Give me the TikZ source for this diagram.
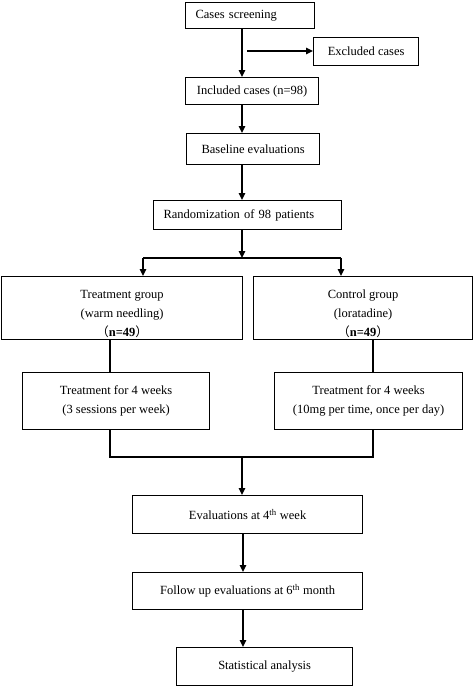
\documentclass[tikz,border=0pt]{standalone}
\usepackage{fontspec}
\setmainfont{Liberation Serif}
\newfontfamily\cjk{Noto Sans CJK SC}
\usetikzlibrary{arrows.meta}
\begin{document}
\begin{tikzpicture}[x=1pt,y=-1pt,
  every node/.style={font=\fontsize{12.5}{19}\selectfont},
  box/.style={draw, line width=1.2pt, inner sep=0pt, align=center, anchor=north west},
  lbox/.style={draw, line width=1.2pt, inner ysep=0pt, inner xsep=10pt, align=left, anchor=north west},
  conn/.style={line width=1.4pt},
  arr/.style={line width=1.4pt, -{Triangle[length=7pt,width=6.5pt]}}]
\useasboundingbox (0,0) rectangle (473,686);
% boxes
\node[lbox, text width=109pt, minimum height=26pt] (screen) at (185,2) {Cases screening};
\node[box, minimum width=105pt, minimum height=28pt] (excl) at (313,37) {Excluded cases};
\node[box, minimum width=133pt, minimum height=27pt] (incl) at (185,77) {Included cases (n=98)};
\node[box, minimum width=133pt, minimum height=31pt] (base) at (186,133) {Baseline evaluations};
\node[lbox, text width=168pt, minimum height=29pt] (rand) at (153,200) {Randomization of 98 patients};
\node[box, minimum width=241pt, minimum height=63pt] (tg) at (1,276) {\rule{0pt}{19pt}Treatment group\\(warm needling)\\{\cjk （}\textbf{n=49}{\cjk ）}};
\node[box, minimum width=219pt, minimum height=63pt] (cg) at (253,276) {\rule{0pt}{19pt}Control group\\(loratadine)\\{\cjk （}\textbf{n=49}{\cjk ）}};
\node[box, minimum width=187pt, minimum height=57pt] (tl) at (22,372) {Treatment for 4 weeks\\(3 sessions per week)};
\node[box, minimum width=188pt, minimum height=57pt] (tr) at (274,372) {Treatment for 4 weeks\\(10mg per time, once per day)};
\node[box, minimum width=230pt, minimum height=38pt] (ev) at (132,495) {Evaluations at 4\textsuperscript{th} week};
\node[box, minimum width=230pt, minimum height=37pt] (fu) at (132,572) {Follow up evaluations at 6\textsuperscript{th} month};
\node[box, minimum width=176pt, minimum height=38pt] (st) at (176,647) {Statistical analysis};
% coordinates
\coordinate (m) at (242,0);
\coordinate (xs) at (247,51);
\coordinate (bl) at (143,258);
\coordinate (br) at (341,258);
\coordinate (jm) at (242,258);
\coordinate (cl) at (110,0);
\coordinate (cr) at (373,0);
\coordinate (jl) at (110,457);
\coordinate (jr) at (373,457);
\coordinate (jb) at (242,457);
\coordinate (m2) at (243,0);
% connectors
\draw[arr] (screen.south -| m) -- (incl.north -| m);
\draw[arr] (xs) -- (excl.west |- xs);
\draw[arr] (incl.south -| m) -- (base.north -| m);
\draw[arr] (base.south -| m) -- (rand.north -| m);
\draw[arr] (rand.south -| m) -- (jm);
\draw[conn] (bl) -- (br);
\draw[arr] (bl) -- (tg.north -| bl);
\draw[arr] (br) -- (cg.north -| br);
\draw[conn] (tg.south -| cl) -- (tl.north -| cl);
\draw[conn] (cg.south -| cr) -- (tr.north -| cr);
\draw[conn] (tl.south -| cl) -- (jl) -- (jr) -- (tr.south -| cr);
\draw[arr] (jb) -- (ev.north -| jb);
\draw[arr] (ev.south -| m2) -- (fu.north -| m2);
\draw[arr] (fu.south -| m2) -- (st.north -| m2);
\end{tikzpicture}
\end{document}
